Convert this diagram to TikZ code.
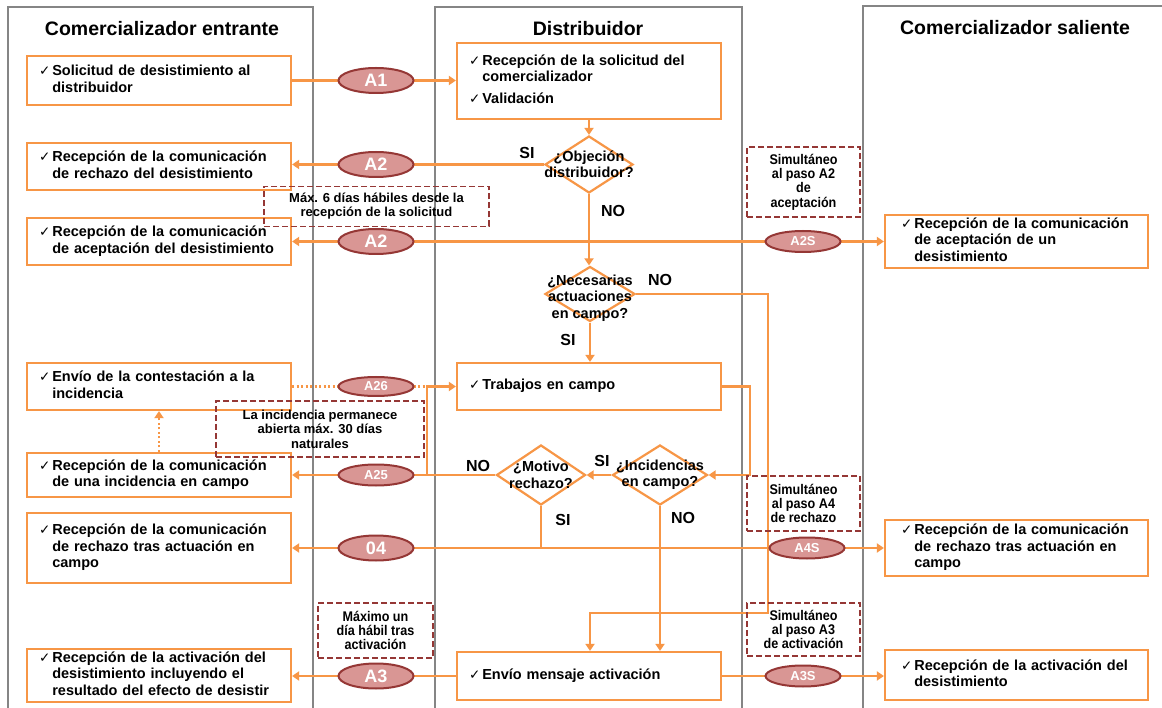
\documentclass[tikz,border=0pt]{standalone}
\usepackage{fontspec}
\setmainfont{Liberation Sans}
\newfontfamily\ckfont{DejaVu Sans}
\newfontfamily\narrowf{Liberation Sans}[FakeStretch=0.9]
\usetikzlibrary{arrows.meta,shapes.geometric}
\definecolor{org}{HTML}{F79646}
\definecolor{ovf}{HTML}{D99694}
\definecolor{ovd}{HTML}{953735}
\definecolor{lanec}{HTML}{858585}
\newcommand{\chk}{{\ckfont\mdseries\fontsize{13.5}{13.5}\selectfont ✓}}
\newcommand{\itm}[1]{\noindent\begin{tabular}{@{}l@{\hspace{2pt}}l@{}}#1\end{tabular}}
\tikzset{
  lane/.style={draw=lanec, line width=2.4},
  hdr/.style={font=\fontsize{19.5}{22}\selectfont\bfseries},
  box/.style={draw=org, line width=2.2, fill=white, rectangle, inner ysep=0, inner xsep=12, text width=240, align=left, font=\fontsize{14.5}{16.5}\selectfont\bfseries},
  rbox/.style={box, inner xsep=16, text width=231},
  dia/.style={diamond, draw=org, line width=2.2, fill=white, inner sep=0},
  dtxt/.style={align=center, font=\fontsize{14.5}{16.5}\selectfont\bfseries, inner sep=0},
  lab/.style={font=\fontsize{16}{18}\selectfont\bfseries, inner sep=0},
  oval/.style={ellipse, draw=ovd, fill=ovf, line width=2, minimum width=75, minimum height=25, inner sep=0, text=white, font=\fontsize{18}{18}\selectfont\bfseries},
  soval/.style={oval, minimum height=21, font=\fontsize{13}{13}\selectfont\bfseries},
  note/.style={draw=ovd, dash pattern=on 6pt off 3pt, line width=1.2, align=center, inner sep=0, font=\fontsize{13}{14}\selectfont\bfseries},
  nnote/.style={note, font=\narrowf\bfseries\fontsize{14}{14.3}\selectfont},
  arr/.style={draw=org, line width=2.2, -{Triangle[width=9pt,length=7pt]}},
  ln/.style={draw=org, line width=2.2},
  dotln/.style={draw=org, line width=2.2, dash pattern=on 2pt off 2.5pt}
}
\begin{document}
\begin{tikzpicture}[x=1pt,y=-1pt]
\clip (0,0) rectangle (1162,708);
\fill[white] (0,0) rectangle (1162,708);
% lanes
\draw[lane] (8,7) rectangle (313,730);
\draw[lane] (435,7) rectangle (742,730);
\draw[lane] (863,6) rectangle (1185,730);
\node[hdr] (h1) at (162,29) {Comercializador entrante};
\node[hdr] (h2) at (588,29) {Distribuidor};
\node[hdr] (h3) at (1015,28) {Comercializador saliente};

% left boxes
\node[box, minimum height=49] (L1) at (159,80.5) {\itm{\chk & Solicitud de desistimiento al\\ & distribuidor}};
\node[box, minimum height=47] (L2) at (159,166.5) {\itm{\chk & Recepción de la comunicación\\ & de rechazo del desistimiento}};
\node[box, minimum height=47] (L3) at (159,241.5) {\itm{\chk & Recepción de la comunicación\\ & de aceptación del desistimiento}};
\node[box, minimum height=47] (L4) at (159,386.5) {\itm{\chk & Envío de la contestación a la\\ & incidencia}};
\node[box, minimum height=44] (L5) at (159,475) {\itm{\chk & Recepción de la comunicación\\ & de una incidencia en campo}};
\node[box, minimum height=70] (L6) at (159,548) {\itm{\chk & Recepción de la comunicación\\ & de rechazo tras actuación en\\ & campo}};
\node[box, minimum height=53] (L7) at (159,675.5) {\itm{\chk & Recepción de la activación del\\ & desistimiento incluyendo el\\ & resultado del efecto de desistir}};

% middle
\node[box, minimum height=76] (M1) at (589,81) {\itm{\chk & Recepción de la solicitud del\\ & comercializador\\[5pt] \chk & Validación}};
\node[dia, minimum width=88, minimum height=57] (obj) at (589,164.5) {};
\node[dtxt] (objt) at (obj) {¿Objeción\\distribuidor?};
\node[dia, minimum width=90, minimum height=55] (nec) at (590,294) {};
\node[dtxt] (nect) at (590,298) {¿Necesarias\\actuaciones\\en campo?};
\node[box, minimum height=47] (trab) at (589,386.5) {\itm{\chk & Trabajos en campo}};
\node[dia, minimum width=89, minimum height=60] (mot) at (541,475) {};
\node[dtxt] (mott) at (mot) {¿Motivo\\rechazo?};
\node[dia, minimum width=95, minimum height=60] (inc) at (660,475) {};
\node[dtxt] (inct) at (inc) {¿Incidencias\\en campo?};
\node[box, minimum height=48] (env) at (589,676) {\itm{\chk & Envío mensaje activación}};

% right boxes
\node[rbox, minimum height=53] (R1) at (1016.5,241.5) {\itm{\chk & Recepción de la comunicación\\ & de aceptación de un\\ & desistimiento}};
\node[rbox, minimum height=56] (R2) at (1016.5,548) {\itm{\chk & Recepción de la comunicación\\ & de rechazo tras actuación en\\ & campo}};
\node[rbox, minimum height=50] (R3) at (1016.5,675) {\itm{\chk & Recepción de la activación del\\ & desistimiento}};

% coordinates
\coordinate (k1) at (768,613);
\coordinate (k2) at (750,475);
\coordinate (k3) at (427,475);
\coordinate (k4) at (mot.south |- L6.east);
\coordinate (k5) at (obj.south |- L3.east);

% connectors
\draw[arr] (L1.east) -- (L1.east -| M1.west);
\draw[arr] (M1.south -| obj.north) -- (obj.north);
\draw[arr] (obj.west) -- (obj.west -| L2.east);
\draw[arr] (obj.south) -- (obj.south |- nec.north);
\draw[arr] (k5) -- (L3.east);
\draw[arr] (k5) -- (R1.west);
\draw[arr] (nec.south) -- (nec.south |- trab.north);
\draw[arr] (nec.east) -| (k1) -| (nec.south |- env.north);
\draw[arr] (trab.east) -| (k2) -- (inc.east);
\draw[arr] (inc.west) -- (mot.east);
\draw[arr] (mot.west) -- (mot.west -| L5.east);
\draw[arr] (k3) |- (trab.west);
\draw[dotln] (L4.east) -- (L4.east -| k3);
\draw[dotln, -{Triangle[width=9pt,length=7pt]}] (L5.north) -- (L4.south);
\draw[ln] (mot.south) -- (k4);
\draw[arr] (k4) -- (L6.east);
\draw[arr] (k4) -- (R2.west);
\draw[arr] (inc.south) -- (inc.south |- env.north);
\draw[arr] (env.west) -- (env.west -| L7.east);
\draw[arr] (env.east) -- (env.east -| R3.west);

% ovals
\node[oval] (oA1) at (376,80.5) {A1};
\node[oval] (oA2a) at (376,164.5) {A2};
\node[oval] (oA2b) at (376,241.5) {A2};
\node[soval] (oA2S) at (803,241.5) {A2S};
\node[soval, minimum height=19] (oA26) at (376,386.5) {A26};
\node[soval] (oA25) at (376,475) {A25};
\node[oval] (o04) at (376,548) {04};
\node[soval] (oA4S) at (807,548) {A4S};
\node[oval] (oA3) at (376,676) {A3};
\node[soval] (oA3S) at (803,676) {A3S};

% labels
\node[lab] (s1) at (527,153) {SI};
\node[lab] (n1) at (613,211) {NO};
\node[lab] (n2) at (660,280) {NO};
\node[lab] (s2) at (568,340) {SI};
\node[lab] (n3) at (478,466) {NO};
\node[lab] (s3) at (602,461) {SI};
\node[lab] (s4) at (563,520) {SI};
\node[lab] (n4) at (683,518) {NO};

% notes
\node[note, minimum width=225, minimum height=40] (d1) at (376.5,206.5) {Máx. 6 días hábiles desde la\\recepción de la solicitud};
\node[nnote, minimum width=113, minimum height=70] (d2) at (803.5,182) {Simultáneo\\al paso A2\\de\\aceptación};
\node[note, minimum width=208, minimum height=56, font=\fontsize{13}{14.5}\selectfont\bfseries] (d3) at (320,429) {La incidencia permanece\\abierta máx. 30 días\\naturales};
\node[nnote, minimum width=113, minimum height=55] (d4) at (803.5,503.5) {Simultáneo\\al paso A4\\de rechazo};
\node[nnote, minimum width=115, minimum height=55] (d5) at (375.5,630.5) {Máximo un\\día hábil tras\\activación};
\node[nnote, minimum width=113, minimum height=53] (d6) at (803.5,629.5) {Simultáneo\\al paso A3\\de activación};
\end{tikzpicture}
\end{document}
